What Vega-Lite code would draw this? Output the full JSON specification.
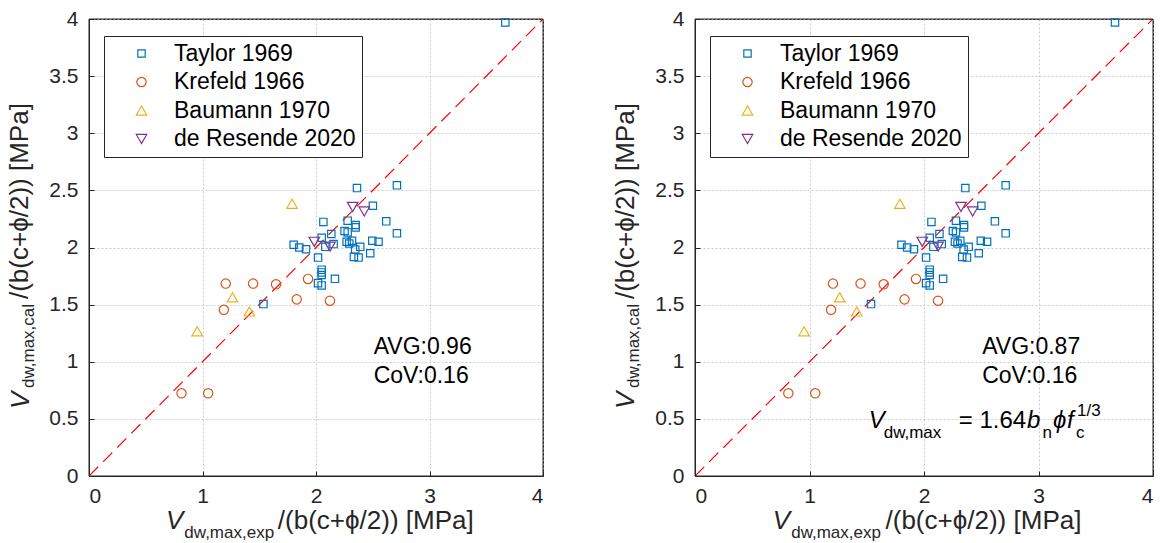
{
  "$schema": "https://vega.github.io/schema/vega-lite/v6.json",
  "padding": {"left": 6, "top": 7, "right": 0, "bottom": 0},
  "spacing": 68,
  "datasets": {
    "one": [{}],
    "diag": [{"x": 0, "y": 0}, {"x": 4, "y": 4}],
    "pts": [
      {"source": "Taylor 1969", "x": 3.668, "y": 3.97},
      {"source": "Taylor 1969", "x": 1.537, "y": 1.505},
      {"source": "Taylor 1969", "x": 2.361, "y": 2.52},
      {"source": "Taylor 1969", "x": 2.713, "y": 2.544},
      {"source": "Taylor 1969", "x": 2.501, "y": 2.365},
      {"source": "Taylor 1969", "x": 2.619, "y": 2.229},
      {"source": "Taylor 1969", "x": 2.713, "y": 2.124},
      {"source": "Taylor 1969", "x": 2.065, "y": 2.224},
      {"source": "Taylor 1969", "x": 2.279, "y": 2.235},
      {"source": "Taylor 1969", "x": 2.349, "y": 2.197},
      {"source": "Taylor 1969", "x": 2.349, "y": 2.176},
      {"source": "Taylor 1969", "x": 2.135, "y": 2.118},
      {"source": "Taylor 1969", "x": 2.05, "y": 2.085},
      {"source": "Taylor 1969", "x": 2.252, "y": 2.144},
      {"source": "Taylor 1969", "x": 2.279, "y": 2.132},
      {"source": "Taylor 1969", "x": 2.27, "y": 2.05},
      {"source": "Taylor 1969", "x": 2.317, "y": 2.059},
      {"source": "Taylor 1969", "x": 2.293, "y": 2.035},
      {"source": "Taylor 1969", "x": 2.39, "y": 2.006},
      {"source": "Taylor 1969", "x": 2.496, "y": 2.059},
      {"source": "Taylor 1969", "x": 2.551, "y": 2.05},
      {"source": "Taylor 1969", "x": 2.346, "y": 1.982},
      {"source": "Taylor 1969", "x": 2.478, "y": 1.95},
      {"source": "Taylor 1969", "x": 2.334, "y": 1.918},
      {"source": "Taylor 1969", "x": 2.375, "y": 1.912},
      {"source": "Taylor 1969", "x": 2.155, "y": 2.03},
      {"source": "Taylor 1969", "x": 2.082, "y": 2.006},
      {"source": "Taylor 1969", "x": 1.803, "y": 2.024},
      {"source": "Taylor 1969", "x": 1.853, "y": 2.0},
      {"source": "Taylor 1969", "x": 1.912, "y": 1.985},
      {"source": "Taylor 1969", "x": 2.018, "y": 1.912},
      {"source": "Taylor 1969", "x": 2.05, "y": 1.806},
      {"source": "Taylor 1969", "x": 2.05, "y": 1.782},
      {"source": "Taylor 1969", "x": 2.05, "y": 1.759},
      {"source": "Taylor 1969", "x": 2.018, "y": 1.688},
      {"source": "Taylor 1969", "x": 2.05, "y": 1.668},
      {"source": "Taylor 1969", "x": 2.167, "y": 1.726},
      {"source": "Krefeld 1966", "x": 0.815, "y": 0.724},
      {"source": "Krefeld 1966", "x": 1.05, "y": 0.724},
      {"source": "Krefeld 1966", "x": 1.205, "y": 1.684},
      {"source": "Krefeld 1966", "x": 1.188, "y": 1.455},
      {"source": "Krefeld 1966", "x": 1.446, "y": 1.684},
      {"source": "Krefeld 1966", "x": 1.648, "y": 1.678},
      {"source": "Krefeld 1966", "x": 1.93, "y": 1.725},
      {"source": "Krefeld 1966", "x": 1.83, "y": 1.546},
      {"source": "Krefeld 1966", "x": 2.123, "y": 1.534},
      {"source": "Baumann 1970", "x": 0.953, "y": 1.267},
      {"source": "Baumann 1970", "x": 1.264, "y": 1.564},
      {"source": "Baumann 1970", "x": 1.413, "y": 1.44},
      {"source": "Baumann 1970", "x": 1.789, "y": 2.383},
      {"source": "de Resende 2020", "x": 1.985, "y": 2.05},
      {"source": "de Resende 2020", "x": 2.124, "y": 2.008},
      {"source": "de Resende 2020", "x": 2.323, "y": 2.355},
      {"source": "de Resende 2020", "x": 2.425, "y": 2.315}
    ]
  },
  "hconcat": [
    {
      "width": 454,
      "height": 457,
      "layer": [
        {"data": {"name": "diag"}, "mark": {"type": "line", "color": "#FF0000", "strokeWidth": 1.2, "strokeDash": [13, 7], "clip": true},
         "encoding": {
           "x": {"field": "x", "type": "quantitative", "title": null, "scale": {"domain": [0, 4], "nice": false}, "axis": {"values": [0, 1, 2, 3, 4], "format": "~g"}},
           "y": {"field": "y", "type": "quantitative", "title": null, "scale": {"domain": [0, 4], "nice": false}, "axis": {"values": [0, 0.5, 1, 1.5, 2, 2.5, 3, 3.5, 4], "format": "~g"}}}},
        {"data": {"name": "one"}, "mark": {"type": "rect", "fill": null, "fillOpacity": 0, "stroke": "#262626", "strokeWidth": 1},
         "encoding": {"x": {"datum": 0, "type": "quantitative", "title": null}, "x2": {"datum": 4}, "y": {"datum": 0, "type": "quantitative", "title": null}, "y2": {"datum": 4}}},
        {"data": {"name": "pts"}, "mark": {"type": "point", "filled": false, "strokeWidth": 1.2, "opacity": 1},
         "encoding": {
           "x": {"field": "x", "type": "quantitative", "title": null, "scale": {"domain": [0, 4], "nice": false}},
           "y": {"field": "y", "type": "quantitative", "title": null, "scale": {"domain": [0, 4], "nice": false}},
           "color": {"field": "source", "type": "nominal", "scale": {"domain": ["Taylor 1969", "Krefeld 1966", "Baumann 1970", "de Resende 2020"], "range": ["#0072BD", "#D95319", "#EDB120", "#7E2F8E"]},
             "legend": {"orient": "none", "legendX": 15, "legendY": 17, "title": null, "strokeColor": "#262626", "fillColor": "white", "padding": 6, "labelFont": "Liberation Sans", "labelFontSize": 23, "labelColor": "black", "labelLimit": 0, "symbolOffset": 20, "labelOffset": 21, "rowPadding": 4.5, "symbolStrokeWidth": 1.2}},
           "shape": {"field": "source", "type": "nominal", "scale": {"domain": ["Taylor 1969", "Krefeld 1966", "Baumann 1970", "de Resende 2020"], "range": ["square", "circle", "triangle-up", "triangle-down"]}},
           "size": {"field": "source", "type": "nominal", "scale": {"type": "ordinal", "domain": ["Taylor 1969", "Krefeld 1966", "Baumann 1970", "de Resende 2020"], "range": [54, 87, 110, 110]}}}},
        {"data": {"name": "one"}, "mark": {"type": "text", "text": "AVG:0.96", "align": "left", "baseline": "alphabetic", "fontSize": 23, "color": "black"},
         "encoding": {"x": {"datum": 2.508, "type": "quantitative", "title": null}, "y": {"datum": 1.068, "type": "quantitative", "title": null}}},
        {"data": {"name": "one"}, "mark": {"type": "text", "text": "CoV:0.16", "align": "left", "baseline": "alphabetic", "fontSize": 23, "color": "black"},
         "encoding": {"x": {"datum": 2.508, "type": "quantitative", "title": null}, "y": {"datum": 0.817, "type": "quantitative", "title": null}}},
        {"data": {"name": "one"}, "mark": {"type": "text", "text": "V", "align": "left", "baseline": "alphabetic", "fontSize": 26, "fontStyle": "italic", "color": "#262626"},
         "encoding": {"x": {"datum": 0.678, "type": "quantitative", "title": null}, "y": {"datum": -0.464, "type": "quantitative", "title": null}}},
        {"data": {"name": "one"}, "mark": {"type": "text", "text": "dw,max,exp", "align": "left", "baseline": "alphabetic", "fontSize": 17, "color": "#262626"},
         "encoding": {"x": {"datum": 0.84, "type": "quantitative", "title": null}, "y": {"datum": -0.543, "type": "quantitative", "title": null}}},
        {"data": {"name": "one"}, "mark": {"type": "text", "text": "/(b(c+ϕ/2)) [MPa]", "align": "left", "baseline": "alphabetic", "fontSize": 26, "color": "#262626"},
         "encoding": {"x": {"datum": 1.664, "type": "quantitative", "title": null}, "y": {"datum": -0.464, "type": "quantitative", "title": null}}},
        {"data": {"name": "one"}, "mark": {"type": "text", "text": "V", "align": "left", "baseline": "alphabetic", "angle": 270, "fontSize": 26, "fontStyle": "italic", "color": "#262626"},
         "encoding": {"x": {"datum": -0.529, "type": "quantitative", "title": null}, "y": {"datum": 0.586, "type": "quantitative", "title": null}}},
        {"data": {"name": "one"}, "mark": {"type": "text", "text": "dw,max,cal", "align": "left", "baseline": "alphabetic", "angle": 270, "fontSize": 17, "color": "#262626"},
         "encoding": {"x": {"datum": -0.485, "type": "quantitative", "title": null}, "y": {"datum": 0.77, "type": "quantitative", "title": null}}},
        {"data": {"name": "one"}, "mark": {"type": "text", "text": "/(b(c+ϕ/2)) [MPa]", "align": "left", "baseline": "alphabetic", "angle": 270, "fontSize": 26, "color": "#262626"},
         "encoding": {"x": {"datum": -0.537, "type": "quantitative", "title": null}, "y": {"datum": 1.549, "type": "quantitative", "title": null}}}
      ]
    },
    {
      "width": 458,
      "height": 457,
      "layer": [
        {"data": {"name": "diag"}, "mark": {"type": "line", "color": "#FF0000", "strokeWidth": 1.2, "strokeDash": [13, 7], "clip": true},
         "encoding": {
           "x": {"field": "x", "type": "quantitative", "title": null, "scale": {"domain": [0, 4], "nice": false}, "axis": {"values": [0, 1, 2, 3, 4], "format": "~g"}},
           "y": {"field": "y", "type": "quantitative", "title": null, "scale": {"domain": [0, 4], "nice": false}, "axis": {"values": [0, 0.5, 1, 1.5, 2, 2.5, 3, 3.5, 4], "format": "~g"}}}},
        {"data": {"name": "one"}, "mark": {"type": "rect", "fill": null, "fillOpacity": 0, "stroke": "#262626", "strokeWidth": 1},
         "encoding": {"x": {"datum": 0, "type": "quantitative", "title": null}, "x2": {"datum": 4}, "y": {"datum": 0, "type": "quantitative", "title": null}, "y2": {"datum": 4}}},
        {"data": {"name": "pts"}, "mark": {"type": "point", "filled": false, "strokeWidth": 1.2, "opacity": 1},
         "encoding": {
           "x": {"field": "x", "type": "quantitative", "title": null, "scale": {"domain": [0, 4], "nice": false}},
           "y": {"field": "y", "type": "quantitative", "title": null, "scale": {"domain": [0, 4], "nice": false}},
           "color": {"field": "source", "type": "nominal", "scale": {"domain": ["Taylor 1969", "Krefeld 1966", "Baumann 1970", "de Resende 2020"], "range": ["#0072BD", "#D95319", "#EDB120", "#7E2F8E"]},
             "legend": {"orient": "none", "legendX": 15, "legendY": 17, "title": null, "strokeColor": "#262626", "fillColor": "white", "padding": 6, "labelFont": "Liberation Sans", "labelFontSize": 23, "labelColor": "black", "labelLimit": 0, "symbolOffset": 20, "labelOffset": 21, "rowPadding": 4.5, "symbolStrokeWidth": 1.2}},
           "shape": {"field": "source", "type": "nominal", "scale": {"domain": ["Taylor 1969", "Krefeld 1966", "Baumann 1970", "de Resende 2020"], "range": ["square", "circle", "triangle-up", "triangle-down"]}},
           "size": {"field": "source", "type": "nominal", "scale": {"type": "ordinal", "domain": ["Taylor 1969", "Krefeld 1966", "Baumann 1970", "de Resende 2020"], "range": [54, 87, 110, 110]}}}},
        {"data": {"name": "one"}, "mark": {"type": "text", "text": "AVG:0.87", "align": "left", "baseline": "alphabetic", "fontSize": 23, "color": "black"},
         "encoding": {"x": {"datum": 2.508, "type": "quantitative", "title": null}, "y": {"datum": 1.068, "type": "quantitative", "title": null}}},
        {"data": {"name": "one"}, "mark": {"type": "text", "text": "CoV:0.16", "align": "left", "baseline": "alphabetic", "fontSize": 23, "color": "black"},
         "encoding": {"x": {"datum": 2.508, "type": "quantitative", "title": null}, "y": {"datum": 0.817, "type": "quantitative", "title": null}}},
        {"data": {"name": "one"}, "mark": {"type": "text", "text": "V", "align": "left", "baseline": "alphabetic", "fontSize": 24, "fontStyle": "italic", "color": "black"},
         "encoding": {"x": {"datum": 1.517, "type": "quantitative", "title": null}, "y": {"datum": 0.42, "type": "quantitative", "title": null}}},
        {"data": {"name": "one"}, "mark": {"type": "text", "text": "dw,max", "align": "left", "baseline": "alphabetic", "fontSize": 17, "color": "black"},
         "encoding": {"x": {"datum": 1.648, "type": "quantitative", "title": null}, "y": {"datum": 0.335, "type": "quantitative", "title": null}}},
        {"data": {"name": "one"}, "mark": {"type": "text", "text": "= 1.64", "align": "left", "baseline": "alphabetic", "fontSize": 24, "color": "black"},
         "encoding": {"x": {"datum": 2.303, "type": "quantitative", "title": null}, "y": {"datum": 0.42, "type": "quantitative", "title": null}}},
        {"data": {"name": "one"}, "mark": {"type": "text", "text": "b", "align": "left", "baseline": "alphabetic", "fontSize": 24, "fontStyle": "italic", "color": "black"},
         "encoding": {"x": {"datum": 2.9, "type": "quantitative", "title": null}, "y": {"datum": 0.42, "type": "quantitative", "title": null}}},
        {"data": {"name": "one"}, "mark": {"type": "text", "text": "n", "align": "left", "baseline": "alphabetic", "fontSize": 17, "color": "black"},
         "encoding": {"x": {"datum": 3.035, "type": "quantitative", "title": null}, "y": {"datum": 0.335, "type": "quantitative", "title": null}}},
        {"data": {"name": "one"}, "mark": {"type": "text", "text": "ϕ", "align": "left", "baseline": "alphabetic", "fontSize": 24, "fontStyle": "italic", "color": "black"},
         "encoding": {"x": {"datum": 3.127, "type": "quantitative", "title": null}, "y": {"datum": 0.42, "type": "quantitative", "title": null}}},
        {"data": {"name": "one"}, "mark": {"type": "text", "text": "f", "align": "left", "baseline": "alphabetic", "fontSize": 24, "fontStyle": "italic", "color": "black"},
         "encoding": {"x": {"datum": 3.249, "type": "quantitative", "title": null}, "y": {"datum": 0.42, "type": "quantitative", "title": null}}},
        {"data": {"name": "one"}, "mark": {"type": "text", "text": "c", "align": "left", "baseline": "alphabetic", "fontSize": 17, "color": "black"},
         "encoding": {"x": {"datum": 3.328, "type": "quantitative", "title": null}, "y": {"datum": 0.335, "type": "quantitative", "title": null}}},
        {"data": {"name": "one"}, "mark": {"type": "text", "text": "1/3", "align": "left", "baseline": "alphabetic", "fontSize": 17, "color": "black"},
         "encoding": {"x": {"datum": 3.336, "type": "quantitative", "title": null}, "y": {"datum": 0.525, "type": "quantitative", "title": null}}},
        {"data": {"name": "one"}, "mark": {"type": "text", "text": "V", "align": "left", "baseline": "alphabetic", "fontSize": 26, "fontStyle": "italic", "color": "#262626"},
         "encoding": {"x": {"datum": 0.678, "type": "quantitative", "title": null}, "y": {"datum": -0.464, "type": "quantitative", "title": null}}},
        {"data": {"name": "one"}, "mark": {"type": "text", "text": "dw,max,exp", "align": "left", "baseline": "alphabetic", "fontSize": 17, "color": "#262626"},
         "encoding": {"x": {"datum": 0.84, "type": "quantitative", "title": null}, "y": {"datum": -0.543, "type": "quantitative", "title": null}}},
        {"data": {"name": "one"}, "mark": {"type": "text", "text": "/(b(c+ϕ/2)) [MPa]", "align": "left", "baseline": "alphabetic", "fontSize": 26, "color": "#262626"},
         "encoding": {"x": {"datum": 1.664, "type": "quantitative", "title": null}, "y": {"datum": -0.464, "type": "quantitative", "title": null}}},
        {"data": {"name": "one"}, "mark": {"type": "text", "text": "V", "align": "left", "baseline": "alphabetic", "angle": 270, "fontSize": 26, "fontStyle": "italic", "color": "#262626"},
         "encoding": {"x": {"datum": -0.529, "type": "quantitative", "title": null}, "y": {"datum": 0.586, "type": "quantitative", "title": null}}},
        {"data": {"name": "one"}, "mark": {"type": "text", "text": "dw,max,cal", "align": "left", "baseline": "alphabetic", "angle": 270, "fontSize": 17, "color": "#262626"},
         "encoding": {"x": {"datum": -0.485, "type": "quantitative", "title": null}, "y": {"datum": 0.77, "type": "quantitative", "title": null}}},
        {"data": {"name": "one"}, "mark": {"type": "text", "text": "/(b(c+ϕ/2)) [MPa]", "align": "left", "baseline": "alphabetic", "angle": 270, "fontSize": 26, "color": "#262626"},
         "encoding": {"x": {"datum": -0.537, "type": "quantitative", "title": null}, "y": {"datum": 1.549, "type": "quantitative", "title": null}}}
      ]
    }
  ],
  "resolve": {"legend": {"color": "independent", "shape": "independent", "size": "independent"}},
  "config": {
    "font": "Liberation Sans",
    "view": {"stroke": "#262626", "strokeWidth": 1},
    "text": {"font": "Liberation Sans"},
    "axis": {"labelFont": "Liberation Sans", "labelFontSize": 21, "labelColor": "#262626", "domainColor": "#262626", "tickColor": "#262626", "tickSize": -5, "gridColor": "#cccccc", "gridDash": [2, 2], "labelPadding": 14},
    "axisY": {"labelPadding": 16}
  }
}
